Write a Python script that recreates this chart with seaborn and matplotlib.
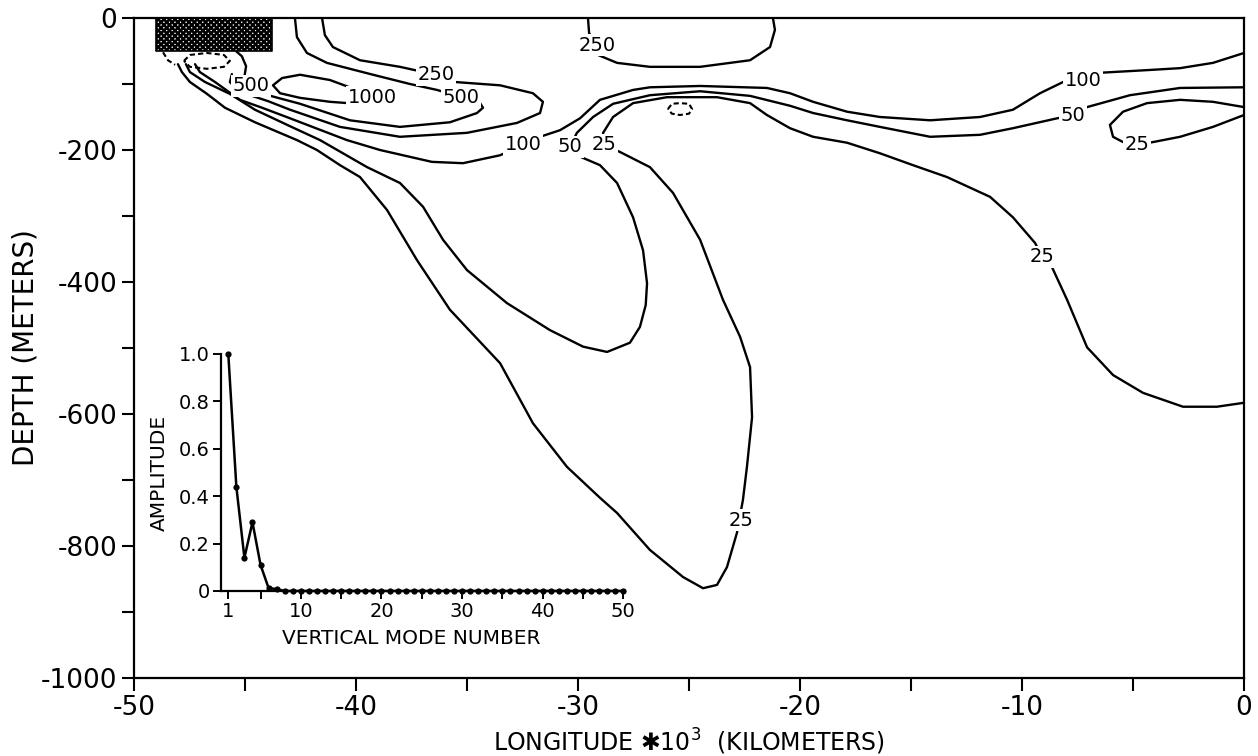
import matplotlib
matplotlib.use("Agg")
import matplotlib.pyplot as plt
import seaborn as sns

# ---------------- main panel: contour paths ----------------
# longitude (x 10^3 km) and depth (m) along each drawn contour line
c25_x = [-48.02, -47.84, -47.48, -46.71, -45.90, -44.55, -42.66, -41.76, -40.72, -39.82,
         -38.60, -37.25, -35.77, -33.51, -32.03, -30.50, -29.01, -28.24, -26.76, -25.27,
         -24.37, -23.74, -23.29, -22.84, -22.57, -22.39, -22.16, -22.25, -22.70, -23.47,
         -24.50, -25.72, -26.76, -28.11, -28.83, -28.87, -28.42, -27.52, -25.99, -23.74,
         -22.25, -21.49, -20.45, -19.41, -17.88, -16.40, -14.91, -13.38, -11.44, -10.41,
         -9.41, -9.10, -8.74, -7.97, -7.07, -5.90, -4.55, -2.75, -1.22, 0.0]
c25_y = [-70, -82, -97, -115, -136, -158, -185, -200, -223, -241,
         -291, -367, -442, -523, -614, -680, -727, -750, -806, -847,
         -864, -859, -832, -780, -730, -680, -605, -529, -483, -427,
         -336, -265, -226, -203, -192, -174, -150, -129, -120, -120,
         -129, -147, -167, -180, -189, -205, -223, -241, -271, -302,
         -341, -362, -371, -427, -499, -541, -568, -589, -589, -583]

c50_x = [-47.66, -47.48, -46.80, -45.68, -44.55, -42.97, -41.62, -39.50, -38.02, -36.98,
         -36.08, -35.00, -33.20, -31.26, -29.77, -28.69, -27.66, -27.21, -26.95, -26.89,
         -27.07, -27.52, -28.24, -29.01, -30.05, -30.36, -30.05, -29.32, -28.42, -26.76,
         -24.50, -22.25, -20.45, -19.41, -17.88, -16.40, -14.14, -11.89, -10.41, -8.42,
         -7.70, -7.07, -5.14, -2.88, 0.0]
c50_y = [-70, -82, -97, -115, -139, -164, -185, -226, -250, -286,
         -336, -382, -432, -473, -498, -506, -492, -468, -435, -402,
         -352, -302, -250, -223, -208, -195, -174, -150, -130, -117,
         -111, -118, -133, -144, -155, -165, -180, -177, -167, -152,
         -148, -135, -117, -106, -105]

c100_x = [-47.25, -47.03, -46.35, -45.23, -44.23, -42.97, -40.41, -38.92, -36.58, -35.18,
          -33.51, -32.48, -31.71, -30.81, -29.91, -29.01, -27.52, -26.76, -24.50, -21.49,
          -20.45, -19.41, -17.88, -16.40, -14.14, -11.89, -10.41, -9.19, -8.15, -7.25,
          -6.49, -4.37, -2.88, -1.40, 0.0]
c100_y = [-70, -82, -97, -124, -136, -152, -185, -200, -218, -220,
          -208, -192, -180, -170, -152, -124, -109, -105, -103, -106,
          -114, -127, -142, -150, -155, -150, -139, -114, -97, -94,
          -83, -79, -76, -68, -53]

c250a_x = [-41.53, -41.40, -41.04, -39.82, -38.02, -36.40, -35.54, -33.51, -32.03, -31.58,
           -31.71, -32.75, -35.00, -38.02, -40.72, -42.97, -43.96, -44.77, -45.32, -45.68,
           -45.59]
c250a_y = [0, -26, -44, -64, -74, -86, -97, -102, -114, -127,
           -144, -159, -174, -180, -165, -139, -126, -117, -109, -97,
           -85]

c250b_x = [-29.55, -29.50, -29.15, -29.10, -28.24, -26.76, -24.50, -22.25, -21.35, -21.13, -21.22]
c250b_y = [0, -23, -41, -56, -68, -74, -74, -64, -44, -18, 0]

c500_x = [-42.75, -42.66, -42.21, -41.31, -39.23, -37.57, -36.35, -35.27, -34.41, -34.28,
          -34.55, -35.77, -38.02, -40.27, -42.52, -43.96, -44.73, -45.02, -44.95, -45.14,
          -45.41]
c500_y = [0, -29, -53, -68, -86, -100, -109, -120, -129, -136,
          -144, -158, -165, -155, -130, -117, -103, -88, -73, -58,
          -50]

c1000_x = [-39.28, -40.05, -41.17, -42.52, -43.33, -43.74, -43.42, -42.52, -41.17, -39.95, -39.28]
c1000_y = [-120, -108, -94, -86, -91, -102, -114, -121, -127, -130, -120]

c25r_x = [0.0, -1.40, -2.88, -4.37, -5.45, -6.04, -5.90, -5.45, -4.82, -4.10, -2.88, -1.40, 0.0]
c25r_y = [-135, -127, -124, -129, -142, -162, -180, -188, -192, -188, -180, -165, -147]

# dashed (negative) contours
neg1_x = [-47.75, -47.48, -46.71, -45.95, -45.68, -45.95, -46.71, -47.48, -47.75]
neg1_y = [-65, -56, -53, -56, -65, -74, -77, -74, -65]
neg2_x = [-25.95, -25.77, -25.41, -25.00, -24.86, -25.00, -25.41, -25.77, -25.95]
neg2_y = [-138, -130, -129, -130, -138, -145, -147, -145, -138]
neg3_x = [-48.69, -48.47, -48.15]
neg3_y = [-52, -64, -71]

# source region (hatched box)
src_x = [-49.0, -43.8]
src_top = 0
src_bottom = -50

# contour labels: value, longitude, depth
lab_vals = ["25", "25", "25", "25", "50", "50", "100", "100", "250", "250", "500", "500", "1000"]
lab_x = [-28.83, -22.66, -9.10, -4.82, -30.36, -7.70, -32.48, -7.25, -36.40, -29.15, -44.73, -35.27, -39.28]
lab_y = [-192, -761, -362, -192, -195, -148, -192, -95, -86, -41, -103, -120, -120]

# axes ticks
x_major = [-50, -40, -30, -20, -10, 0]
x_major_labels = ["-50", "-40", "-30", "-20", "-10", "0"]
x_minor = [-45, -35, -25, -15, -5]
y_major = [0, -200, -400, -600, -800, -1000]
y_major_labels = ["0", "-200", "-400", "-600", "-800", "-1000"]
y_minor = [-100, -300, -500, -700, -900]

# ---------------- inset: modal amplitudes ----------------
modes = list(range(1, 51))
amps = [1.00, 0.44, 0.14, 0.29, 0.11, 0.012, 0.008, 0.0, 0.0, 0.0,
        0.0, 0.0, 0.0, 0.0, 0.0, 0.0, 0.0, 0.0, 0.0, 0.0,
        0.0, 0.0, 0.0, 0.0, 0.0, 0.0, 0.0, 0.0, 0.0, 0.0,
        0.0, 0.0, 0.0, 0.0, 0.0, 0.0, 0.0, 0.0, 0.0, 0.0,
        0.0, 0.0, 0.0, 0.0, 0.0, 0.0, 0.0, 0.0, 0.0, 0.0]
in_x_major = [1, 10, 20, 30, 40, 50]
in_x_minor = [5, 15, 25, 35, 45]
in_y_ticks = [0, 0.2, 0.4, 0.6, 0.8, 1.0]
in_y_labels = ["0", "0.2", "0.4", "0.6", "0.8", "1.0"]

# ---------------- drawing ----------------
sns.set_theme(style="ticks")
plt.rcParams['font.family'] = ['DejaVu Sans']
plt.rcParams['axes.unicode_minus'] = False
plt.rcParams['hatch.linewidth'] = 1.8

fig = plt.figure(figsize=(12.58, 7.56), dpi=100)
ax = fig.add_axes([0.1065, 0.1032, 0.8824, 0.8730])
ax.set_xlim(-50, 0)
ax.set_ylim(-1000, 0)

LW = 1.7
solid = [(c25_x, c25_y), (c50_x, c50_y), (c100_x, c100_y), (c250a_x, c250a_y),
         (c250b_x, c250b_y), (c500_x, c500_y), (c1000_x, c1000_y), (c25r_x, c25r_y)]
for xs, ys in solid:
    sns.lineplot(x=xs, y=ys, sort=False, estimator=None, color='black', lw=LW, ax=ax)
for xs, ys in [(neg1_x, neg1_y), (neg2_x, neg2_y), (neg3_x, neg3_y)]:
    sns.lineplot(x=xs, y=ys, sort=False, estimator=None, color='black', lw=1.5,
                 ax=ax, linestyle=(0, (2.5, 1.5)))

ax.fill_between(src_x, src_bottom, src_top, facecolor='white', edgecolor='black',
                hatch='xxxxxx', linewidth=1.2, zorder=4)

for v, x, y in zip(lab_vals, lab_x, lab_y):
    ax.text(x, y, v, ha='center', va='center', fontsize=14, color='black',
            bbox=dict(fc='white', ec='none', pad=1.0), zorder=6)

ax.set_xticks(x_major)
ax.set_xticklabels(x_major_labels)
ax.set_xticks(x_minor, minor=True)
ax.set_yticks(y_major)
ax.set_yticklabels(y_major_labels)
ax.set_yticks(y_minor, minor=True)
ax.tick_params(which='both', direction='out', length=9, width=1.5, colors='black',
               labelsize=19, pad=3)
for s in ax.spines.values():
    s.set_linewidth(1.6)
    s.set_color('black')
ax.set_xlabel("LONGITUDE \u273110$^3$  (KILOMETERS)", fontsize=17, color='black')
ax.set_ylabel("DEPTH (METERS)", fontsize=20, color='black')
ax.xaxis.set_label_coords(0.5, -0.074)
ax.yaxis.set_label_coords(-0.085, 0.5)

# inset
axi = fig.add_axes([0.1757, 0.2183, 0.3211, 0.3135])
axi.patch.set_alpha(0)
sns.lineplot(x=modes, y=amps, color='black', lw=1.8, marker='o', markersize=4.5,
             markeredgewidth=0, ax=axi, clip_on=False)
axi.set_xlim(0.1, 50.2)
axi.set_ylim(0, 1.0)
axi.spines['top'].set_visible(False)
axi.spines['right'].set_visible(False)
for s in ['left', 'bottom']:
    axi.spines[s].set_linewidth(1.6)
    axi.spines[s].set_color('black')
axi.set_xticks(in_x_major)
axi.set_xticks(in_x_minor, minor=True)
axi.set_yticks(in_y_ticks)
axi.set_yticklabels(in_y_labels)
axi.tick_params(which='both', direction='out', length=6, width=1.4, colors='black',
                labelsize=14, pad=2)
axi.set_xlabel("VERTICAL MODE NUMBER", fontsize=14.5, color='black')
axi.set_ylabel("AMPLITUDE", fontsize=14.5, color='black')
axi.xaxis.set_label_coords(0.47, -0.16)
axi.yaxis.set_label_coords(-0.13, 0.5)

fig.savefig("out.png", dpi=100)
